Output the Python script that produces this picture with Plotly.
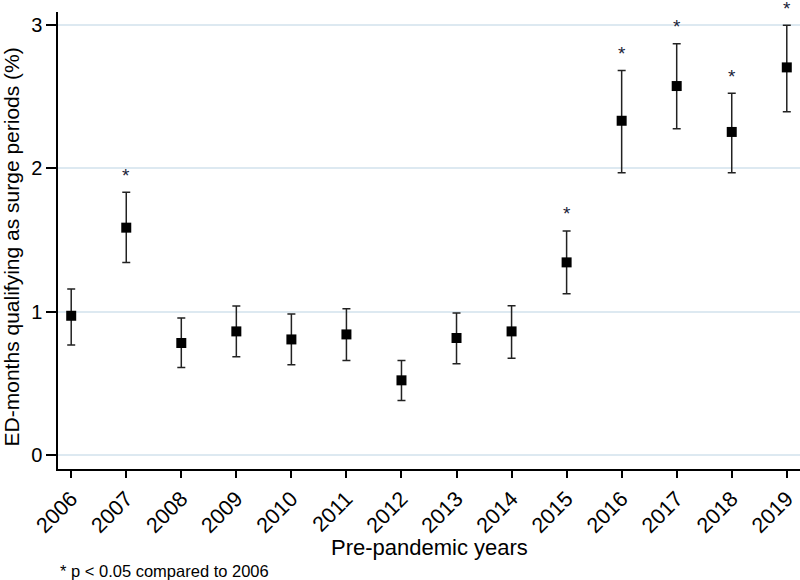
import plotly.graph_objects as go

years = [2006, 2007, 2008, 2009, 2010, 2011, 2012, 2013, 2014, 2015, 2016, 2017, 2018, 2019]
estimate = [0.973, 1.587, 0.783, 0.864, 0.808, 0.843, 0.523, 0.818, 0.864, 1.345, 2.332, 2.574, 2.254, 2.704]
ci_upper = [1.160, 1.833, 0.957, 1.041, 0.985, 1.022, 0.662, 0.992, 1.043, 1.564, 2.683, 2.869, 2.523, 2.997]
ci_lower = [0.770, 1.345, 0.613, 0.688, 0.632, 0.662, 0.383, 0.639, 0.676, 1.127, 1.970, 2.277, 1.970, 2.395]
significant = [False, True, False, False, False, False, False, False, False, True, True, True, True, True]
tick_labels = [str(y) for y in years]
y_ticks = [0, 1, 2, 3]

font_family = "Liberation Sans, Arial, sans-serif"

fig = go.Figure()
fig.add_trace(go.Scatter(
    x=years, y=estimate, mode="markers",
    marker=dict(symbol="square", size=10, color="black"),
    error_y=dict(type="data", symmetric=False,
                 array=[u - e for u, e in zip(ci_upper, estimate)],
                 arrayminus=[e - l for e, l in zip(estimate, ci_lower)],
                 color="#222222", thickness=1.5, width=4),
    showlegend=False, cliponaxis=False,
))

sig_x = [y for y, s in zip(years, significant) if s]
sig_y = [u for u, s in zip(ci_upper, significant) if s]
for x, y in zip(sig_x, sig_y):
    fig.add_annotation(x=x, y=y, text="*", showarrow=False, yshift=17,
                       font=dict(family=font_family, size=19, color="#1a2238"))

# axis titles and footnote
fig.add_annotation(xref="paper", yref="paper", x=0.5, y=-0.172, xanchor="center", yanchor="middle",
                   text="Pre-pandemic years", showarrow=False,
                   font=dict(family=font_family, size=22, color="black"))
fig.add_annotation(xref="paper", yref="paper", x=(11.5 - 58) / 742, y=0.486, xanchor="center", yanchor="middle",
                   text="ED-months qualifying as surge periods (%)", showarrow=False, textangle=-90,
                   font=dict(family=font_family, size=21, color="black"))
fig.add_annotation(xref="paper", yref="paper", x=0.0, y=-0.224, xanchor="left", yanchor="middle",
                   text="* p &lt; 0.05 compared to 2006", showarrow=False,
                   font=dict(family=font_family, size=16.5, color="black"))

fig.update_layout(
    width=800, height=580,
    margin=dict(l=58, r=0, t=12, b=111),
    paper_bgcolor="white", plot_bgcolor="white",
    font=dict(family=font_family, color="black"),
    xaxis=dict(
        range=[2005.76, 2019.24], tickmode="array", tickvals=years, ticktext=tick_labels,
        tickangle=-45, tickfont=dict(size=21.5), ticks="outside", ticklen=7, tickwidth=1.5,
        ticklabelstandoff=0,
        tickcolor="black", showline=True, linecolor="black", linewidth=1.5,
        showgrid=False, zeroline=False,
    ),
    yaxis=dict(
        range=[-0.095, 3.09], tickmode="array", tickvals=y_ticks,
        tickfont=dict(size=20), ticks="outside", ticklen=10, tickwidth=1.5,
        tickcolor="black", showline=True, linecolor="black", linewidth=1.5,
        showgrid=True, gridcolor="#dde9f1", gridwidth=1.5, zeroline=False,
    ),
)

fig.write_html("out.html")
